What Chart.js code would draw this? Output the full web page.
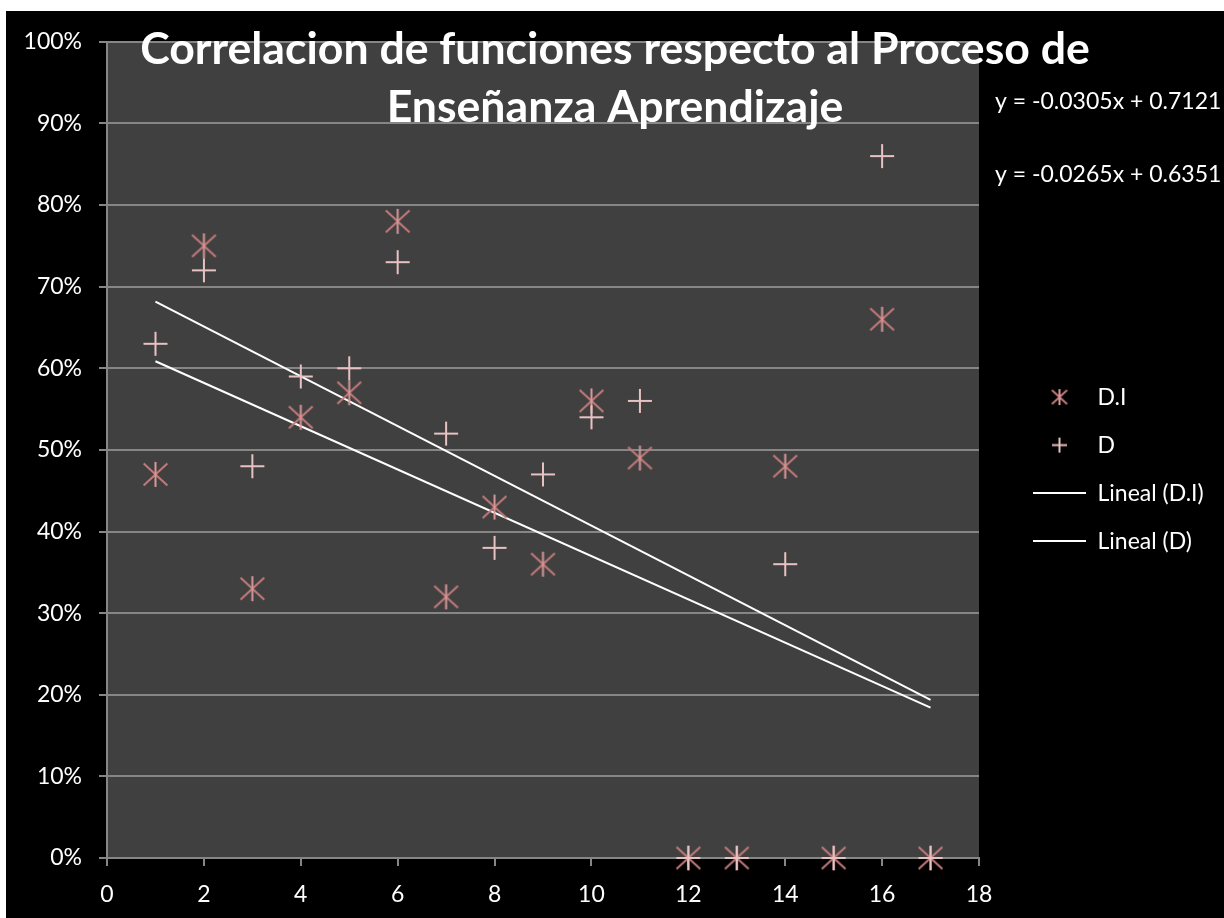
<!DOCTYPE html>
<html>
<head>
<meta charset="utf-8">
<script src="https://cdn.jsdelivr.net/npm/chart.js@4.4.1/dist/chart.umd.min.js"></script>
<style>
html,body{margin:0;padding:0;background:#fff;}
#wrap{position:absolute;left:6px;top:11px;width:1218px;height:907px;background:#000;}
canvas{display:block;}
</style>
</head>
<body>
<div id="wrap"><canvas id="c" width="1218" height="907"></canvas></div>
<script>
// ---- data ----
const xValues  = [1, 2, 3, 4, 5, 6, 7, 8, 9, 10, 11, 12, 13, 14, 15, 16, 17];
const seriesDI = [0.47, 0.75, 0.33, 0.54, 0.57, 0.78, 0.32, 0.43, 0.36, 0.56, 0.49, 0, 0, 0.48, 0, 0.66, 0];
const seriesD  = [0.63, 0.72, 0.48, 0.59, 0.60, 0.73, 0.52, 0.38, 0.47, 0.54, 0.56, 0, 0, 0.36, 0, 0.86, 0];
const seriesNames = ['D.I', 'D', 'Lineal (D.I)', 'Lineal (D)'];
const titleLines = ['Correlacion de funciones respecto al Proceso de', 'Enseñanza Aprendizaje'];
const xAxisRange = [0, 18, 2];
const yAxisRange = [0, 1, 0.1];

// ---- linear trendlines (least squares) ----
function linReg(xs, ys) {
  const n = xs.length;
  const mx = xs.reduce((a, b) => a + b, 0) / n;
  const my = ys.reduce((a, b) => a + b, 0) / n;
  let sxy = 0, sxx = 0;
  for (let i = 0; i < n; i++) { sxy += (xs[i] - mx) * (ys[i] - my); sxx += (xs[i] - mx) ** 2; }
  const m = sxy / sxx;
  return { m, b: my - m * mx };
}
const regDI = linReg(xValues, seriesDI);
const regD = linReg(xValues, seriesD);
const x0 = xValues[0], x1 = xValues[xValues.length - 1];
const trendDI = [{ x: x0, y: regDI.m * x0 + regDI.b }, { x: x1, y: regDI.m * x1 + regDI.b }];
const trendD = [{ x: x0, y: regD.m * x0 + regD.b }, { x: x1, y: regD.m * x1 + regD.b }];
const eqText = r => 'y = ' + r.m.toFixed(4) + 'x + ' + r.b.toFixed(4);
const equations = [eqText(regD), eqText(regDI)];

// ---- marker images ----
const AST_DIAG = '#c47b7b', AST_VERT = '#d89898', PLUS_COL = '#e8c2c2';
function makeAsterisk(r) {
  const s = Math.ceil(r * 2 + 4);
  const cv = document.createElement('canvas'); cv.width = s; cv.height = s;
  const c = cv.getContext('2d'); const m = s / 2;
  c.lineWidth = 2; c.lineCap = 'butt';
  c.strokeStyle = AST_DIAG;
  c.beginPath();
  c.moveTo(m - r * 0.95, m - r * 0.88); c.lineTo(m + r * 0.95, m + r * 0.88);
  c.moveTo(m + r * 0.95, m - r * 0.88); c.lineTo(m - r * 0.95, m + r * 0.88);
  c.stroke();
  c.strokeStyle = AST_VERT;
  c.beginPath(); c.moveTo(m, m - r); c.lineTo(m, m + r); c.stroke();
  return cv;
}
function makePlus(r) {
  const s = Math.ceil(r * 2 + 4);
  const cv = document.createElement('canvas'); cv.width = s; cv.height = s;
  const c = cv.getContext('2d'); const m = s / 2;
  c.lineWidth = 2; c.strokeStyle = PLUS_COL;
  c.beginPath();
  c.moveTo(m - r, m); c.lineTo(m + r, m);
  c.moveTo(m, m - r); c.lineTo(m, m + r);
  c.stroke();
  return cv;
}
const astBig = makeAsterisk(12.5), plusBig = makePlus(12);
const astSmall = makeAsterisk(8), plusSmall = makePlus(7.5);

const toPts = arr => arr.map((v, i) => ({ x: xValues[i], y: v }));

const FONT = 'Lato, "Open Sans", sans-serif';
const GRID = '#868686';
const TXT = 23;

const bgPlugin = {
  id: 'plotBg',
  beforeDraw(chart) {
    const { ctx, chartArea: a } = chart;
    ctx.save();
    ctx.fillStyle = '#404040';
    ctx.fillRect(a.left, a.top, a.right - a.left, a.bottom - a.top);
    ctx.restore();
  }
};
const eqPlugin = {
  id: 'equations',
  afterDraw(chart) {
    const { ctx, chartArea: a } = chart;
    ctx.save();
    ctx.fillStyle = '#ffffff';
    ctx.font = TXT + 'px ' + FONT;
    ctx.textBaseline = 'middle';
    ctx.textAlign = 'left';
    ctx.fillText(equations[0], a.right + 16, 91);
    ctx.fillText(equations[1], a.right + 16, 164);
    ctx.restore();
  }
};

const chart = new Chart(document.getElementById('c'), {
  type: 'scatter',
  data: {
    datasets: [
      { label: seriesNames[0], data: toPts(seriesDI), pointStyle: astBig, pointRadius: 12, pointHoverRadius: 12,
        borderColor: AST_DIAG, backgroundColor: AST_DIAG, clip: false, order: 2 },
      { label: seriesNames[1], data: toPts(seriesD), pointStyle: plusBig, pointRadius: 12, pointHoverRadius: 12,
        borderColor: PLUS_COL, backgroundColor: PLUS_COL, clip: false, order: 1 },
      { type: 'line', label: seriesNames[2], data: trendDI, borderColor: '#ffffff', borderWidth: 2,
        pointRadius: 0, showLine: true, fill: false, order: 3 },
      { type: 'line', label: seriesNames[3], data: trendD, borderColor: '#ffffff', borderWidth: 2,
        pointRadius: 0, showLine: true, fill: false, order: 3 }
    ]
  },
  options: {
    responsive: false,
    animation: false,
    layout: { padding: 0 },
    plugins: {
      tooltip: { enabled: false },
      title: {
        display: true,
        text: titleLines,
        color: '#ffffff',
        font: { family: FONT, size: 44.6, weight: 'bold', lineHeight: 1.3 },
        padding: { top: 8, bottom: -95 }
      },
      legend: {
        display: true,
        position: 'right',
        align: 'center',
        title: { display: true, text: '', font: { size: 1 }, padding: { top: 8, bottom: 0 } },
        labels: {
          color: '#ffffff',
          font: { family: FONT, size: TXT },
          usePointStyle: true,
          pointStyleWidth: 53,
          padding: 25,
          generateLabels(chart) {
            return chart.data.datasets.map((ds, i) => ({
              text: ds.label,
              datasetIndex: i,
              fontColor: '#ffffff',
              hidden: false,
              lineWidth: 2,
              strokeStyle: '#ffffff',
              fillStyle: 'rgba(0,0,0,0)',
              pointStyle: i === 0 ? astSmall : (i === 1 ? plusSmall : 'line')
            }));
          }
        }
      }
    },
    scales: {
      x: {
        type: 'linear',
        min: xAxisRange[0], max: xAxisRange[1],
        ticks: { stepSize: xAxisRange[2], color: '#ffffff', font: { family: FONT, size: TXT }, padding: 15 },
        grid: { drawOnChartArea: false, drawTicks: true, tickLength: 8, color: GRID, lineWidth: 2 },
        border: { color: GRID, width: 2 },
        // reserve the space right of the plot (legend + equations) so the plot ends where the reference's does
        afterFit(s) { s.height = 60; s.paddingRight = 245; }
      },
      y: {
        type: 'linear',
        min: yAxisRange[0], max: yAxisRange[1],
        ticks: { stepSize: yAxisRange[2], color: '#ffffff', font: { family: FONT, size: TXT }, padding: 17,
          callback: v => Math.round(v * 100) + '%' },
        grid: { drawOnChartArea: true, drawTicks: true, tickLength: 8, color: GRID, lineWidth: 2 },
        border: { color: GRID, width: 2 },
        afterFit(s) { s.width = 101; }
      },
      pad: {
        type: 'linear', axis: 'y', position: 'right', display: true, weight: 0,
        grid: { display: false }, ticks: { display: false }, border: { display: false },
        afterFit(s) { s.width = 29; }
      }
    }
  },
  plugins: [bgPlugin, eqPlugin]
});
</script>
</body>
</html>
